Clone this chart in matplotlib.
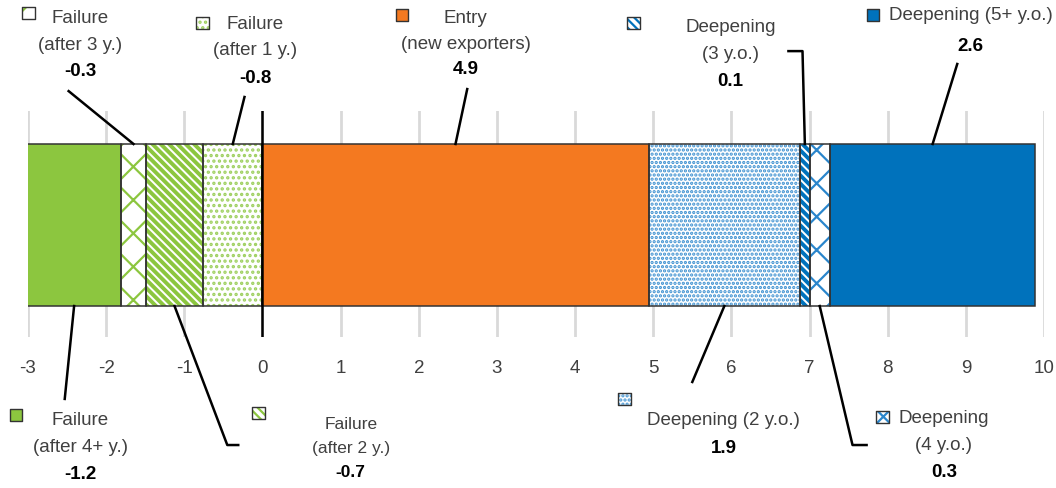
import numpy as np
import matplotlib
matplotlib.use("Agg")
import matplotlib.pyplot as plt
from matplotlib.transforms import blended_transform_factory

plt.rcParams["font.family"] = ["Liberation Sans Narrow", "Liberation Sans", "DejaVu Sans"]
plt.rcParams["axes.unicode_minus"] = False
plt.rcParams["hatch.linewidth"] = 1.6

# Data (contribution to export growth, percentage points)
names = ["Failure\n(after 4+ y.)", "Failure\n(after 3 y.)", "Failure\n(after 2 y.)",
         "Failure\n(after 1 y.)", "Entry\n(new exporters)", "Deepening (2 y.o.)",
         "Deepening\n(3 y.o.)", "Deepening\n(4 y.o.)", "Deepening (5+ y.o.)"]
values = [-1.2, -0.32, -0.73, -0.76, 4.94, 1.94, 0.12, 0.26, 2.63]
xticks = list(range(-3, 11))

# Styles
green, orange, blue = "#8cc63f", "#f47920", "#0072bc"
face = [green, "white", "white", "white", orange, "white", "white", "white", blue]
hatch_col = [green, "#8cc63f", "#8cc63f", "#9fd060", orange, "#3a8fd0", blue, "#2a86cc", blue]
hatches = [None, "x", "\\" * 4, "...", None, "....", "\\" * 4, "x", None]
hatch_lw = [1.6, 1.6, 2.8, 1.6, 1.6, 1.6, 2.8, 1.6, 1.6]

# label layout: text x (data), name y, value y (axes), marker (x, y), leader path end points
layout = [
    dict(tx=-2.33, ny=-0.425, vy=-0.602, mk=(-3.15, -0.345), path=[(-2.53, -0.274)], fs=13.5),
    dict(tx=-2.33, ny=1.354, vy=1.177, mk=(-2.99, 1.434), path=[(-2.48, 1.088)], fs=13.5),
    dict(tx=1.13, ny=-0.436, vy=-0.593, mk=(-0.05, -0.336), path=[(-0.45, -0.478), (-0.31, -0.478)], fs=12.5),
    dict(tx=-0.09, ny=1.331, vy=1.150, mk=(-0.77, 1.389), path=[(-0.23, 1.062)], fs=13.5),
    dict(tx=2.6, ny=1.358, vy=1.186, mk=(1.78, 1.425), path=[(2.62, 1.097)], fs=13.5),
    dict(tx=5.9, ny=-0.363, vy=-0.487, mk=(4.63, -0.274), path=[(5.50, -0.199)], fs=13.5),
    dict(tx=5.99, ny=1.314, vy=1.133, mk=(4.75, 1.389), path=[(6.91, 1.265), (6.73, 1.265)], fs=13.5),
    dict(tx=8.72, ny=-0.416, vy=-0.593, mk=(7.93, -0.354), path=[(7.55, -0.478), (7.73, -0.478)], fs=13.5),
    dict(tx=9.06, ny=1.425, vy=1.292, mk=(7.81, 1.425), path=[(8.89, 1.208)], fs=13.5),
]

# stacking: negatives from 0 leftwards (last failure next to 0), positives rightwards
lefts = []
neg = [v for v in values if v < 0]
pos_cum = 0.0
neg_cum = 0.0
for v in values[len(neg) - 1::-1]:
    neg_cum += v
    lefts.insert(0, neg_cum)
for v in values[len(neg):]:
    lefts.append(pos_cum)
    pos_cum += v
widths = [abs(v) for v in values]

fig = plt.figure(figsize=(10.56, 4.89), dpi=100)
ax = fig.add_axes([28 / 1056, 1 - 338 / 489, 1016 / 1056, 226 / 489])
ax.set_xlim(-3, 10)
ax.set_ylim(0, 1)

bar_y, bar_h = 0.4955, 0.717
for i in range(len(values)):
    if hatches[i]:
        with plt.rc_context({"hatch.linewidth": hatch_lw[i]}):
            ax.barh(bar_y, widths[i], left=lefts[i], height=bar_h, color="white",
                    edgecolor=hatch_col[i], hatch=hatches[i], linewidth=0, zorder=2)
    else:
        ax.barh(bar_y, widths[i], left=lefts[i], height=bar_h, color=face[i],
                linewidth=0, zorder=2)
    ax.barh(bar_y, widths[i], left=lefts[i], height=bar_h, fill=False,
            edgecolor="#333333", linewidth=1.1, zorder=3)

ax.set_xticks(xticks)
ax.set_yticks([])
ax.grid(axis="x", color="#d9d9d9", linewidth=2, zorder=0)
ax.axvline(0, color="black", linewidth=1.8, zorder=4)
for s in ax.spines.values():
    s.set_visible(False)
ax.tick_params(axis="x", length=0, pad=16, labelsize=13.5, labelcolor="#404040")

trans = blended_transform_factory(ax.transData, ax.transAxes)
for i, lay in enumerate(layout):
    mid = lefts[i] + widths[i] / 2
    start_y = bar_y + bar_h / 2 if lay["ny"] > 0.5 else bar_y - bar_h / 2
    xs = [mid] + [p[0] for p in lay["path"]]
    ys = [start_y] + [p[1] for p in lay["path"]]
    ax.plot(xs, ys, color="black", linewidth=1.8, transform=trans, clip_on=False, zorder=5)
    ax.text(lay["tx"], lay["ny"], names[i], transform=trans, ha="center", va="center",
            fontsize=lay["fs"], color="#404040", linespacing=1.7)
    ax.text(lay["tx"], lay["vy"], f"{values[i]:.1f}", transform=trans, ha="center", va="center",
            fontsize=lay["fs"], color="black", fontweight="bold")
    mx, my = lay["mk"]
    if hatches[i]:
        ax.scatter([mx], [my], s=85, marker="s", color="white", edgecolors=hatch_col[i],
                   hatch=hatches[i], linewidths=0, transform=trans, clip_on=False, zorder=6)
        ax.scatter([mx], [my], s=85, marker="s", facecolors="none", edgecolors="#333333",
                   linewidths=1.0, transform=trans, clip_on=False, zorder=7)
    else:
        ax.scatter([mx], [my], s=85, marker="s", color=face[i], edgecolors="#333333",
                   linewidths=1.0, transform=trans, clip_on=False, zorder=6)

fig.savefig("out.png", dpi=100)
